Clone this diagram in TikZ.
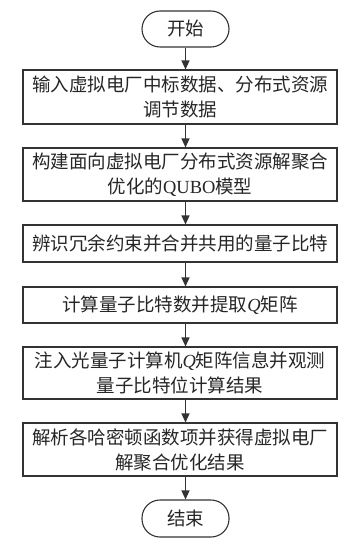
\documentclass[tikz,border=0pt]{standalone}
\usepackage{fontspec}
\newfontfamily\cjk{Noto Sans CJK SC}
\newfontfamily\lat{Liberation Serif}
\usetikzlibrary{arrows.meta}

\begin{document}
\begin{tikzpicture}[x=1pt,y=-1pt,
		box/.style={draw=black!80, line width=1.1pt, minimum width=314pt,
			text width=304pt, align=center, inner sep=0pt,
			font=\cjk\fontsize{18.5}{25}\selectfont, text=black!85},
		term/.style={draw=black!80, line width=1.1pt, minimum width=87pt,
			minimum height=36pt, rounded corners=18pt, inner sep=0pt,
			font=\cjk\fontsize{18.5}{25}\selectfont, text=black!85},
		flow/.style={draw=black!80, line width=1.3pt, -{Triangle[width=8pt,length=9pt]}}]
	
	\useasboundingbox (0,0) rectangle (351,548);
	
	%--- terminals ---
	\node[term] (start) at (185.5,29) {开始};
	\node[term, minimum height=37pt] (stop) at (185.5,518.5) {结束};
	
	%--- process steps ---
	\node[box, minimum height=54pt] (input) at (180,97)
		{输入虚拟电厂中标数据、分布式资源\\调节数据};
	\node[box, minimum height=53pt] (model) at (180,174.5)
		{构建面向虚拟电厂分布式资源解聚合\\优化的{\lat QUBO}模型};
	\node[box, minimum height=37pt] (merge) at (180,243.5)
		{辨识冗余约束并合并共用的量子比特};
	\node[box, minimum height=36pt] (qmat) at (180,305)
		{计算量子比特数并提取{\lat\itshape Q}矩阵};
	\node[box, minimum height=52pt] (solve) at (180,373)
		{注入光量子计算机{\lat\itshape Q}矩阵信息并观测\\量子比特位计算结果};
	\node[box, minimum height=53pt] (result) at (180,449.5)
		{解析各哈密顿函数项并获得虚拟电厂\\解聚合优化结果};
	
	% arrows, all on the axis of the terminals
	\draw[flow] (start.south) -- (start.south |- input.north);
	\draw[flow] (input.south -| start) -- (model.north -| start);
	\draw[flow] (model.south -| start) -- (merge.north -| start);
	\draw[flow] (merge.south -| start) -- (qmat.north -| start);
	\draw[flow] (qmat.south -| start) -- (solve.north -| start);
	\draw[flow] (solve.south -| start) -- (result.north -| start);
	\draw[flow] (result.south -| start) -- (stop.north);
	
\end{tikzpicture}
\end{document}
